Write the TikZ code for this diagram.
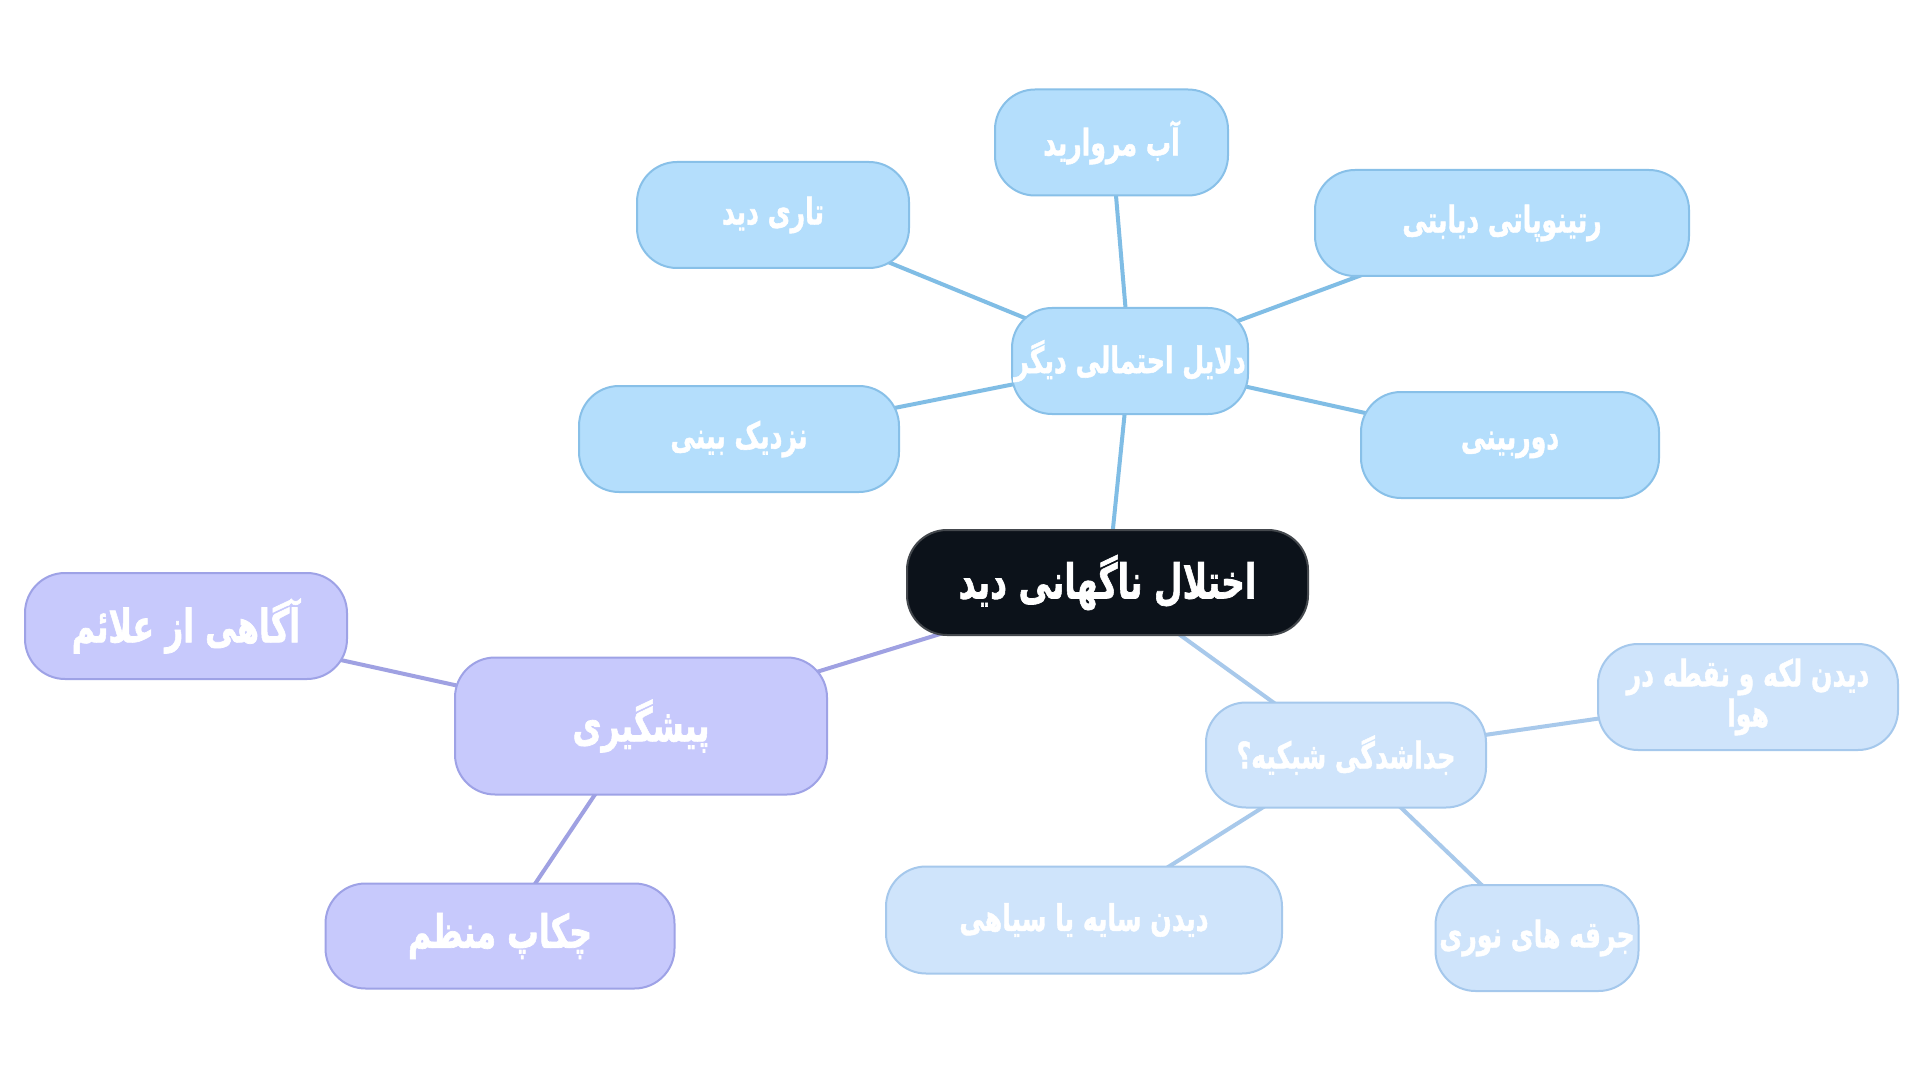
\documentclass[tikz,border=0pt]{standalone}
\usepackage{fontspec}
\TeXXeTstate=1
\newfontfamily\arabicfont[Script=Arabic, FakeBold=1.6]{DejaVu Sans Bold}
\usetikzlibrary{backgrounds}
\definecolor{bfill}{HTML}{B4DEFC}
\definecolor{bdraw}{HTML}{88C0E8}
\definecolor{bline}{HTML}{80BDE5}
\definecolor{pfill}{HTML}{C7C9FC}
\definecolor{pdraw}{HTML}{9EA2E6}
\definecolor{pline}{HTML}{9FA1E2}
\definecolor{lfill}{HTML}{CFE4FB}
\definecolor{ldraw}{HTML}{A5C8EC}
\definecolor{lline}{HTML}{A8C9EB}
\definecolor{cfill}{HTML}{0C121A}
\definecolor{cdraw}{HTML}{44484D}
\newcommand\fa[1]{\makebox[0pt]{\scalebox{0.93}[1.35]{\beginR #1\endR}}}
\tikzset{
  box/.style={draw, line width=2pt, rounded corners=40pt, text=white, inner sep=0pt, align=center},
  bluebox/.style={box, fill=bfill, draw=bdraw, minimum height=106pt, font=\arabicfont\fontsize{27}{40}\selectfont},
  purplebox/.style={box, fill=pfill, draw=pdraw, minimum height=106pt, font=\arabicfont\fontsize{34}{40}\selectfont},
  lightbox/.style={box, fill=lfill, draw=ldraw, minimum height=106pt, font=\arabicfont\fontsize{27}{40}\selectfont},
  rootbox/.style={box, fill=cfill, draw=cdraw, minimum height=105pt, font=\arabicfont\fontsize{35.5}{40}\selectfont},
  blink/.style={draw=bline, line width=4pt},
  plink/.style={draw=pline, line width=4pt},
  llink/.style={draw=lline, line width=4pt},
}
\begin{document}
\begin{tikzpicture}[x=1pt,y=-1pt]
\useasboundingbox (0,0) rectangle (1920,1083);
% root
\node[rootbox, minimum width=401pt] (root) at (1107.5,582.5) {\fa{اختلال ناگهانی دید}};
% blue group
\node[bluebox, minimum width=236pt] (cause) at (1130,361) {\fa{دلایل احتمالی دیگر}};
\node[bluebox, minimum width=233pt] (cat) at (1111.5,142.5) {\fa{آب مروارید}};
\node[bluebox, minimum width=272pt] (blur) at (773,215) {\fa{تاری دید}};
\node[bluebox, minimum width=374pt] (retino) at (1502,223) {\fa{رتینوپاتی دیابتی}};
\node[bluebox, minimum width=320pt] (myopia) at (739,439) {\fa{نزدیک بینی}};
\node[bluebox, minimum width=298pt] (hyper) at (1510,445) {\fa{دوربینی}};
% purple group
\node[purplebox, minimum width=372pt, minimum height=137pt] (prev) at (641,726) {\fa{پیشگیری}};
\node[purplebox, minimum width=322pt] (aware) at (186,626) {\fa{آگاهی از علائم}};
\node[purplebox, minimum width=349pt, minimum height=105pt] (check) at (500,936) {\fa{چکاپ منظم}};
% light group
\node[lightbox, minimum width=280pt, minimum height=105pt] (detach) at (1346,755) {\fa{جداشدگی شبکیه؟}};
\node[lightbox, minimum width=300pt] (spots) at (1748,697) {\fa{دیدن لکه و نقطه در}\\\fa{هوا}};
\node[lightbox, minimum width=396pt, minimum height=107pt] (shadow) at (1084,920) {\fa{دیدن سایه یا سیاهی}};
\node[lightbox, minimum width=203pt] (flash) at (1537,938) {\fa{جرقه های نوری}};
\begin{scope}[on background layer]
\fill[white] (0,0) rectangle (1920,1083);
\draw[blink] (root.center) -- (cause.center);
\draw[plink] (root.center) -- (prev.center);
\draw[llink] (root.center) -- (detach.center);
\draw[blink] (cause.center) -- (cat.center);
\draw[blink] (cause.center) -- (blur.center);
\draw[blink] (cause.center) -- (retino.center);
\draw[blink] (cause.center) -- (myopia.center);
\draw[blink] (cause.center) -- (hyper.center);
\draw[plink] (prev.center) -- (aware.center);
\draw[plink] (prev.center) -- (check.center);
\draw[llink] (detach.center) -- (spots.center);
\draw[llink] (detach.center) -- (shadow.center);
\draw[llink] (detach.center) -- (flash.center);
\end{scope}
\end{tikzpicture}
\end{document}
